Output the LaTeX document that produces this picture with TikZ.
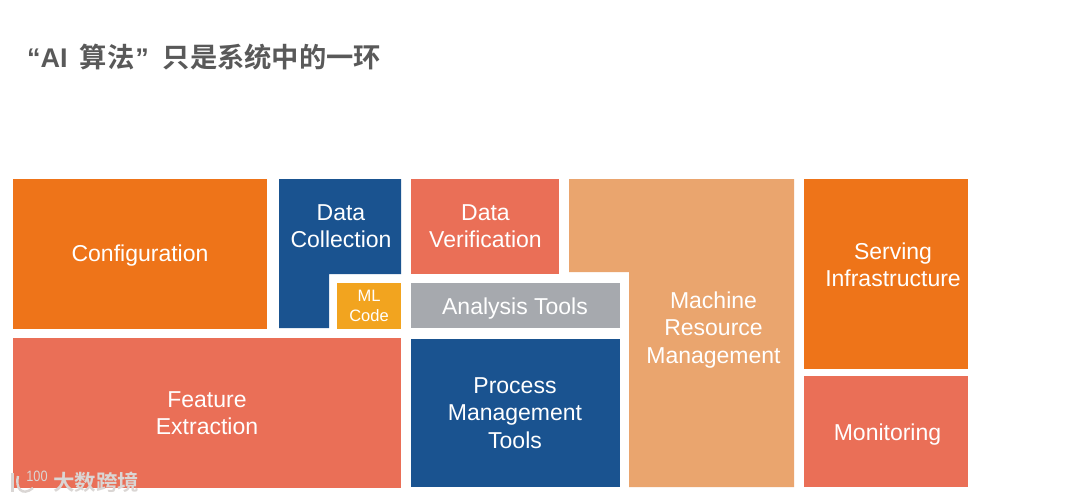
\documentclass[tikz,border=0pt]{standalone}
\usepackage{fontspec}
\setmainfont{Liberation Sans}
\newfontfamily\cjkb[BoldFont={Noto Sans CJK SC Bold}]{Noto Sans CJK SC}
\definecolor{orangeB}{HTML}{EE7419}
\definecolor{blueB}{HTML}{1A5390}
\definecolor{coralB}{HTML}{EA6F57}
\definecolor{sandB}{HTML}{EAA56E}
\definecolor{greyB}{HTML}{A6A9AE}
\definecolor{yellowB}{HTML}{F2A41F}
\definecolor{titleC}{HTML}{595959}
\definecolor{wmC}{HTML}{DAD6D4}
\tikzset{
  lbl/.style={text=white,align=center,inner sep=0pt,font=\fontsize{23}{27.5}\selectfont},
  lblsmall/.style={text=white,align=center,inner sep=0pt,font=\fontsize{16.5}{20}\selectfont},
  wm/.style={inner sep=0pt,font=\cjkb\bfseries\fontsize{21.5}{22}\selectfont},
}
\begin{document}
\begin{tikzpicture}[x=1pt,y=-1pt]
\useasboundingbox (0,0) rectangle (1080,503);
\fill[white] (0,0) rectangle (1080,503);
% title
\node[anchor=west,inner sep=0pt,text=titleC,font=\bfseries\fontsize{27}{30}\selectfont] (title) at (27,57) {“AI\hspace{12pt}{\cjkb\bfseries\fontsize{27.3}{30}\selectfont 算法}\hspace{1pt}”\hspace{14pt}{\cjkb\bfseries\fontsize{27.3}{30}\selectfont 只是系统中的一环}};
% boxes
\fill[orangeB] (13,179) rectangle (267,329);
\node[lbl] (config) at (140,256) {Configuration};
\fill[blueB] (279,179) -- (401,179) -- (401,274) -- (329,274) -- (329,328) -- (279,328) -- cycle;
\node[lbl] (collect) at (341,226) {Data\\Collection};
\fill[yellowB] (337,283) rectangle (401,329);
\node[lblsmall] (ml) at (369,306) {ML\\Code};
\fill[coralB] (13,338) rectangle (401,488);
\node[lbl] (feature) at (207,413) {Feature\\Extraction};
\fill[coralB] (411,179) rectangle (559,274);
\node[lbl] (verify) at (485.5,226) {Data\\Verification};
\fill[greyB] (411,283) rectangle (620,328);
\node[lbl] (analysis) at (515,309) {Analysis Tools};
\fill[blueB] (411,339) rectangle (620,487);
\node[lbl] (process) at (515,413) {Process\\Management\\Tools};
\fill[sandB] (569,179) -- (794,179) -- (794,487) -- (629,487) -- (629,272) -- (569,272) -- cycle;
\node[lbl] (machine) at (713.5,330) {Machine\\Resource\\Management};
\fill[orangeB] (804,179) rectangle (968,369);
\node[lbl] (serving) at (893,265) {Serving\\Infrastructure};
\fill[coralB] (804,376) rectangle (968,487);
\node[lbl] (monitor) at (887.5,435) {Monitoring};
% watermark
\draw[wmC,line width=2.4pt] (12.5,473) -- (12.5,492);
\draw[wmC,line width=2.4pt] (18,476) .. controls (15,488) and (22,497) .. (33,488);
\node[inner sep=0pt,text=wmC,font=\fontsize{15}{16}\selectfont] (logo) at (37,476) {\scalebox{.85}[1]{100}};
\node[wm,text=wmC] (wmtext) at (96,482) {大数跨境};
\end{tikzpicture}
\end{document}
